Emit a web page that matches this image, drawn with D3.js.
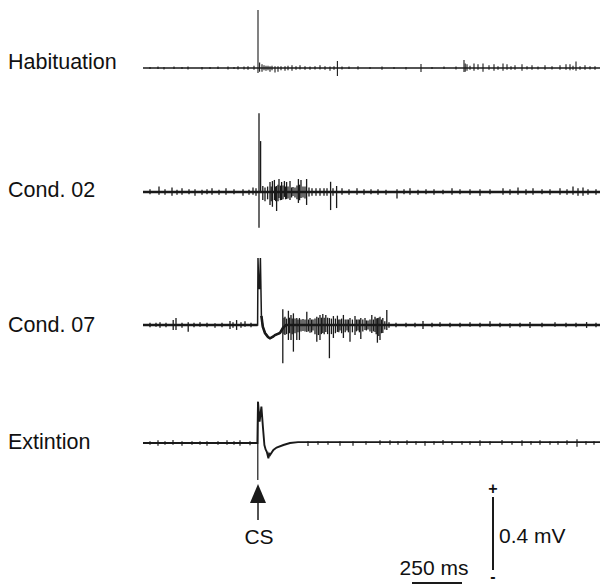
<!DOCTYPE html>
<html>
<head>
<meta charset="utf-8">
<script src="https://d3js.org/d3.v7.min.js"></script>
<style>
  body { margin: 0; background: #fff; }
  svg text { font-family: "Liberation Sans", Arial, Helvetica, sans-serif; fill: #111; }
</style>
</head>
<body>
<div id="chart"></div>
<script>
// time in ms relative to CS onset, voltage in mV
var traceNames = ["Habituation", "Cond. 02", "Cond. 07", "Extintion"];
var timeRange = [-575, 1715];

// slow components of each trace [t, mV]
var habSlow = [[-575, 0], [1715, 0]];
var c02Slow = [[-575, 0], [1715, 0]];
var c07Slow = [[-575, 0], [-2, 0], [0, 0.367], [4, 0.2], [8, 0.2], [12, 0.367], [17, 0.05], [24, -0.009],
  [35, -0.044], [50, -0.066], [60, -0.073], [75, -0.064], [85, -0.055], [110, -0.044],
  [125, -0.016], [140, 0], [1715, 0]];
var extSlow = [[-575, 0], [-3, 0], [0, 0.226], [8, 0.117], [17, 0.199], [25, 0.082], [32, -0.011],
  [38, -0.035], [44, -0.048], [52, -0.084], [56, -0.06], [60, -0.066], [77, -0.038], [93, -0.025],
  [127, -0.011], [160, 0], [200, 0.005], [1715, 0.005]];

// fast deflections [t, up mV, down mV]
var habSpikes = [
  [-540, 0.006, -0.006], [-500, 0.008, -0.006], [-470, 0.006, -0.008], [-420, 0.008, -0.006],
  [-380, 0.006, -0.006], [-350, 0.008, -0.008], [-280, 0.006, -0.008], [-240, 0.006, -0.006],
  [-200, 0.008, -0.006], [-150, 0.008, -0.008], [-120, 0.006, -0.006], [-100, 0.01, -0.008],
  [-70, 0.008, -0.008], [-50, 0.01, -0.01], [-20, 0.012, -0.01],
  [0, 0.318, -0.027], [8, 0.03, -0.02], [20, 0.02, -0.02], [30, 0.015, -0.012], [40, 0.012, -0.015],
  [50, 0.012, -0.012], [60, 0.01, -0.02], [70, 0.012, -0.012], [85, 0.01, -0.025], [100, 0.01, -0.02],
  [115, 0.01, -0.012], [135, 0.01, -0.015], [150, 0.012, -0.012], [170, 0.015, -0.015],
  [190, 0.01, -0.01], [210, 0.015, -0.008], [235, 0.01, -0.01], [260, 0.008, -0.01],
  [285, 0.01, -0.008], [310, 0.015, -0.008], [335, 0.01, -0.01], [360, 0.008, -0.015],
  [380, 0.01, -0.01], [397, 0.038, -0.044], [420, 0.008, -0.008], [455, 0.008, -0.006],
  [500, 0.01, -0.008], [560, 0.006, -0.006], [620, 0.008, -0.01], [680, 0.006, -0.006],
  [740, 0.006, -0.008], [815, 0.022, -0.022], [870, 0.006, -0.006], [930, 0.008, -0.006],
  [990, 0.008, -0.008], [1030, 0.044, -0.022], [1036, 0.025, -0.02], [1045, 0.02, -0.015],
  [1060, 0.012, -0.01], [1080, 0.025, -0.015], [1100, 0.02, -0.01],
  [1125, 0.025, -0.02], [1155, 0.015, -0.01], [1180, 0.02, -0.015], [1200, 0.01, -0.01],
  [1225, 0.025, -0.015], [1245, 0.02, -0.01], [1265, 0.01, -0.01], [1285, 0.015, -0.01],
  [1320, 0.02, -0.015], [1345, 0.01, -0.008], [1370, 0.015, -0.01], [1400, 0.008, -0.008],
  [1435, 0.015, -0.01], [1470, 0.01, -0.008], [1510, 0.015, -0.01], [1540, 0.02, -0.01],
  [1560, 0.02, -0.012], [1575, 0.012, -0.01], [1590, 0.035, -0.015], [1610, 0.01, -0.01],
  [1635, 0.015, -0.01], [1660, 0.01, -0.008], [1685, 0.01, -0.01]
];
var c02Spikes = [
  [-540, 0.015, -0.012], [-495, 0.03, -0.015], [-465, 0.015, -0.015], [-430, 0.025, -0.02],
  [-405, 0.012, -0.015], [-380, 0.02, -0.015], [-345, 0.015, -0.012], [-315, 0.015, -0.02],
  [-280, 0.012, -0.015], [-255, 0.015, -0.012], [-230, 0.02, -0.015], [-195, 0.012, -0.015],
  [-160, 0.02, -0.015], [-120, 0.015, -0.012], [-75, 0.015, -0.02], [-45, 0.012, -0.015],
  [-25, 0.025, -0.015], [-10, 0.02, -0.02],
  [5, 0.431, -0.196], [13, 0.279, 0], [24, 0.033, -0.044], [35, 0.025, -0.05], [48, 0.03, -0.04],
  [60, 0.055, -0.071], [66, 0.03, -0.05], [72, 0.06, -0.081], [82, 0.066, -0.044], [88, 0.03, -0.05],
  [93, 0.033, -0.104], [100, 0.04, -0.05], [105, 0.071, -0.033], [112, 0.035, -0.045],
  [118, 0.055, -0.044], [125, 0.035, -0.04], [132, 0.06, -0.027], [138, 0.03, -0.04],
  [143, 0.055, -0.038], [150, 0.03, -0.035], [160, 0.06, -0.044], [168, 0.025, -0.03],
  [175, 0.027, -0.022], [185, 0.025, -0.03], [195, 0.035, -0.04], [202, 0.071, -0.06],
  [208, 0.04, -0.045], [215, 0.066, -0.033], [225, 0.03, -0.03], [235, 0.03, -0.035],
  [243, 0.071, -0.071], [255, 0.025, -0.025], [270, 0.02, -0.02], [290, 0.02, -0.02],
  [310, 0.02, -0.02], [330, 0.02, -0.02], [345, 0.02, -0.02], [363, 0.056, -0.099],
  [375, 0.02, -0.02], [393, 0.033, -0.088], [420, 0.02, -0.015], [455, 0.015, -0.015],
  [495, 0.02, -0.015], [530, 0.015, -0.015], [565, 0.015, -0.012], [600, 0.015, -0.015],
  [640, 0.012, -0.015], [695, 0.015, -0.035], [730, 0.015, -0.012], [760, 0.02, -0.015],
  [800, 0.012, -0.015], [840, 0.015, -0.012], [880, 0.015, -0.015], [925, 0.012, -0.012],
  [970, 0.02, -0.015], [1010, 0.015, -0.012], [1060, 0.015, -0.015],
  [1110, 0.015, -0.02], [1160, 0.015, -0.012], [1225, 0.02, -0.015], [1260, 0.015, -0.015],
  [1300, 0.025, -0.015], [1340, 0.015, -0.015], [1375, 0.02, -0.015], [1420, 0.015, -0.012],
  [1460, 0.015, -0.015], [1510, 0.02, -0.015], [1545, 0.015, -0.015], [1575, 0.03, -0.015],
  [1600, 0.02, -0.02], [1625, 0.025, -0.02], [1650, 0.015, -0.015], [1690, 0.015, -0.015]
];
var c07Spikes = [
  [-540, 0.012, -0.012], [-510, 0.012, -0.01], [-490, 0.015, -0.015], [-460, 0.012, -0.012],
  [-424, 0.027, -0.027], [-410, 0.038, -0.027], [-380, 0.012, -0.015], [-349, 0.015, -0.037],
  [-320, 0.012, -0.012], [-290, 0.015, -0.01], [-255, 0.012, -0.012], [-215, 0.01, -0.015],
  [-180, 0.012, -0.012], [-140, 0.022, -0.022], [-125, 0.015, -0.015], [-107, 0.027, -0.027],
  [-85, 0.015, -0.015], [-65, 0.02, -0.01], [-35, 0.012, -0.012],
  [124, 0.086, -0.21], [130, 0.04, -0.05], [135, 0.045, -0.055], [143, 0.035, -0.05],
  [152, 0.078, -0.082], [158, 0.04, -0.045], [165, 0.055, -0.082], [171, 0.035, -0.05],
  [177, 0.064, -0.146], [185, 0.035, -0.045], [194, 0.038, -0.082], [200, 0.03, -0.04],
  [207, 0.038, -0.082], [215, 0.03, -0.035], [225, 0.033, -0.033], [235, 0.03, -0.035],
  [244, 0.073, -0.038], [252, 0.03, -0.035], [260, 0.038, -0.042], [268, 0.03, -0.04],
  [275, 0.03, -0.03], [285, 0.035, -0.05], [294, 0.045, -0.092], [302, 0.04, -0.055],
  [310, 0.055, -0.082], [317, 0.04, -0.05], [324, 0.06, -0.044], [331, 0.04, -0.05],
  [339, 0.055, -0.038], [348, 0.04, -0.05], [357, 0.038, -0.182], [367, 0.035, -0.05],
  [377, 0.049, -0.071], [387, 0.035, -0.045], [397, 0.051, -0.038], [404, 0.03, -0.04],
  [410, 0.03, -0.03], [418, 0.035, -0.045], [427, 0.055, -0.071], [436, 0.03, -0.04],
  [445, 0.03, -0.03], [452, 0.03, -0.04], [460, 0.038, -0.092], [472, 0.03, -0.04],
  [485, 0.049, -0.055], [492, 0.03, -0.035], [500, 0.03, -0.03], [507, 0.03, -0.04],
  [514, 0.038, -0.077], [524, 0.03, -0.035], [535, 0.038, -0.027], [542, 0.025, -0.03],
  [550, 0.025, -0.025], [560, 0.03, -0.035], [569, 0.055, -0.044], [577, 0.03, -0.035],
  [585, 0.045, -0.038], [591, 0.035, -0.05], [597, 0.038, -0.097], [604, 0.04, -0.06],
  [610, 0.045, -0.082], [617, 0.03, -0.045], [624, 0.038, -0.044], [634, 0.02, -0.025],
  [644, 0.082, -0.027], [655, 0.015, -0.015], [690, 0.012, -0.012], [740, 0.012, -0.012],
  [785, 0.012, -0.012], [825, 0.022, -0.022], [870, 0.012, -0.012], [910, 0.015, -0.01],
  [960, 0.012, -0.012], [1010, 0.012, -0.012], [1060, 0.015, -0.01], [1110, 0.012, -0.012],
  [1160, 0.02, -0.01], [1210, 0.012, -0.012], [1260, 0.01, -0.015], [1310, 0.012, -0.012],
  [1360, 0.016, -0.016], [1420, 0.012, -0.012], [1485, 0.015, -0.01], [1540, 0.012, -0.012],
  [1590, 0.012, -0.012], [1643, 0.016, -0.016], [1690, 0.012, -0.012]
];
var extSpikes = [
  [-540, 0.01, -0.01], [-500, 0.015, -0.015], [-465, 0.01, -0.01], [-425, 0.016, -0.01],
  [-380, 0.01, -0.015], [-330, 0.01, -0.01], [-290, 0.01, -0.01], [-255, 0.01, -0.015],
  [-200, 0.01, -0.01], [-155, 0.015, -0.01], [-120, 0.01, -0.01], [-90, 0.015, -0.015],
  [-40, 0.01, -0.012], [-1, 0.226, -0.203], [250, 0.01, -0.016], [300, 0.01, -0.01],
  [350, 0.008, -0.01], [410, 0.01, -0.015], [475, 0.01, -0.015], [540, 0.01, -0.01],
  [610, 0.015, -0.01], [660, 0.015, -0.01], [700, 0.01, -0.01],
  [745, 0.015, -0.01], [790, 0.01, -0.01], [835, 0.01, -0.015], [880, 0.01, -0.01],
  [925, 0.016, -0.01], [970, 0.01, -0.01], [1020, 0.01, -0.01], [1060, 0.01, -0.01],
  [1110, 0.015, -0.015], [1160, 0.01, -0.01], [1220, 0.016, -0.01], [1270, 0.01, -0.01],
  [1320, 0.015, -0.015], [1365, 0.01, -0.01], [1410, 0.015, -0.01], [1460, 0.01, -0.01],
  [1500, 0.01, -0.01], [1545, 0.015, -0.01], [1595, 0.02, -0.02], [1640, 0.01, -0.01],
  [1680, 0.01, -0.01]
];

// scale bars
var scaleTime = 250;   // ms
var scaleVolt = 0.4;   // mV

var traces = [
  { name: traceNames[0], slow: habSlow, spikes: habSpikes, base: 68, lw: 1.3, sw: 1.1, labelY: 69 },
  { name: traceNames[1], slow: c02Slow, spikes: c02Spikes, base: 192, lw: 2.6, sw: 1.3, labelY: 197 },
  { name: traceNames[2], slow: c07Slow, spikes: c07Spikes, base: 325, lw: 1.5, sw: 1.3, labelY: 332 },
  { name: traceNames[3], slow: extSlow, spikes: extSpikes, base: 443, lw: 1.9, sw: 1.2, labelY: 449 }
];

var W = 600, H = 585;
var pxPerMV = 182.5;
var ink = "#1a1a1a";

var svg = d3.select("#chart").append("svg")
  .attr("width", W)
  .attr("height", H);

var x = d3.scaleLinear().domain(timeRange).range([143, 601]);

traces.forEach(function(tr, i) {
  var y = d3.scaleLinear().domain([0, 1]).range([tr.base, tr.base - pxPerMV]);
  var g = svg.append("g");

  var line = d3.line()
    .x(function(d) { return x(d[0]); })
    .y(function(d) { return y(d[1]); });

  // Cond. 07: thick noise band everywhere except the thin twin spike
  if (i == 2) {
    g.append("path")
      .datum(tr.slow.filter(function(d) { return d[0] < 0; }))
      .attr("d", line)
      .attr("fill", "none")
      .attr("stroke", ink).attr("stroke-width", 2.6);
    g.append("path")
      .datum(tr.slow.filter(function(d) { return d[0] >= 17; }))
      .attr("d", line)
      .attr("fill", "none")
      .attr("stroke", ink).attr("stroke-width", 2.6);
  }

  g.append("path")
    .datum(tr.slow)
    .attr("d", line)
    .attr("fill", "none")
    .attr("stroke", ink)
    .attr("stroke-width", tr.lw);

  g.selectAll("line.spk")
    .data(tr.spikes)
    .enter().append("line")
    .attr("class", "spk")
    .attr("x1", function(d) { return x(d[0]); })
    .attr("x2", function(d) { return x(d[0]); })
    .attr("y1", function(d) { return y(d[1]); })
    .attr("y2", function(d) { return y(d[2]); })
    .attr("stroke", ink)
    .attr("stroke-width", tr.sw);

  svg.append("text")
    .attr("x", 8)
    .attr("y", tr.labelY)
    .attr("font-size", "21.5px")
    .text(tr.name);
});

// CS arrow
var csX = x(0);
svg.append("line")
  .attr("x1", csX).attr("x2", csX)
  .attr("y1", 500).attr("y2", 520)
  .attr("stroke", ink).attr("stroke-width", 1.5);
svg.append("path")
  .attr("d", "M" + csX + ",484 L" + (csX - 8) + ",503 L" + (csX + 8) + ",503 Z")
  .attr("fill", ink);
svg.append("text")
  .attr("x", csX + 1).attr("y", 544)
  .attr("text-anchor", "middle")
  .attr("font-size", "21px")
  .text("CS");

// voltage scale bar
var vy = d3.scaleLinear().domain([0, 1]).range([570, 570 - pxPerMV]);
var vbX = 493;
svg.append("line")
  .attr("x1", vbX).attr("x2", vbX)
  .attr("y1", vy(0)).attr("y2", vy(scaleVolt))
  .attr("stroke", ink).attr("stroke-width", 2);
svg.append("text")
  .attr("x", vbX).attr("y", 494)
  .attr("text-anchor", "middle")
  .attr("font-size", "16px").attr("font-weight", "bold")
  .text("+");
svg.append("text")
  .attr("x", vbX).attr("y", 582)
  .attr("text-anchor", "middle")
  .attr("font-size", "16px").attr("font-weight", "bold")
  .text("-");
svg.append("text")
  .attr("x", 499).attr("y", 543)
  .attr("font-size", "21px")
  .text(scaleVolt + " mV");

// time scale bar
var tbX0 = 412;
svg.append("line")
  .attr("x1", tbX0).attr("x2", tbX0 + (x(scaleTime) - x(0)))
  .attr("y1", 583).attr("y2", 583)
  .attr("stroke", ink).attr("stroke-width", 2);
svg.append("text")
  .attr("x", 434).attr("y", 575)
  .attr("text-anchor", "middle")
  .attr("font-size", "21px")
  .text(scaleTime + " ms");
</script>
</body>
</html>
